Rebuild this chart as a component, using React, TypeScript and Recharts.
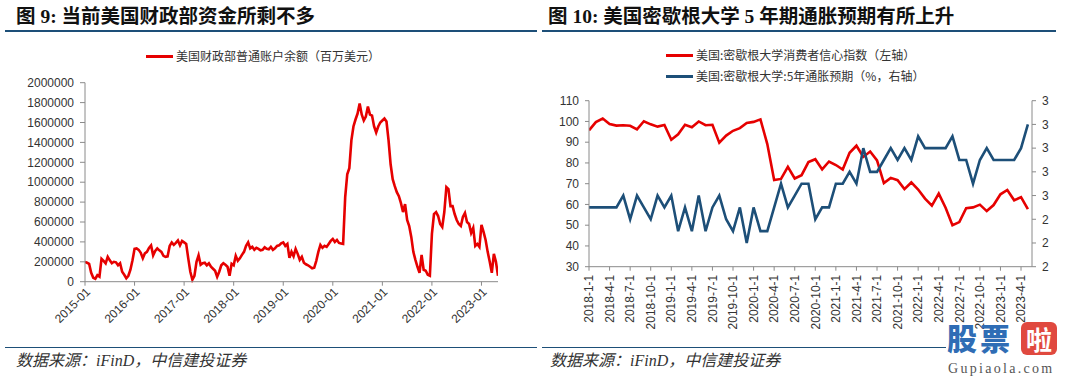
import React from "react";
import { LineChart, Line, XAxis, YAxis } from "recharts";

// ---------- Figure 9: US Treasury General Account balance (millions USD), semi-monthly from 2015-01 ----------
const tgaStartYear = 2015;
const tgaValues: number[] = [
  // 2015
  200000, 190000, 180000, 90000, 40000, 30000, 65000, 50000, 230000, 210000, 185000, 250000,
  215000, 185000, 200000, 195000, 165000, 185000, 100000, 70000, 35000, 60000, 120000, 215000,
  // 2016
  330000, 335000, 320000, 290000, 235000, 285000, 300000, 340000, 365000, 265000, 310000, 335000,
  315000, 300000, 260000, 250000, 255000, 360000, 395000, 370000, 390000, 415000, 365000, 410000,
  // 2017
  395000, 380000, 235000, 100000, 20000, 60000, 200000, 265000, 170000, 185000, 190000, 165000,
  185000, 150000, 130000, 110000, 50000, 100000, 165000, 185000, 170000, 150000, 60000, 180000,
  // 2018
  165000, 260000, 210000, 235000, 270000, 300000, 360000, 395000, 335000, 350000, 320000, 340000,
  330000, 315000, 320000, 345000, 330000, 325000, 350000, 320000, 335000, 360000, 365000, 385000,
  // 2019
  395000, 360000, 380000, 240000, 300000, 255000, 330000, 280000, 220000, 250000, 190000, 175000,
  165000, 150000, 135000, 140000, 210000, 300000, 370000, 340000, 360000, 350000, 380000, 410000,
  // 2020
  430000, 400000, 420000, 390000, 385000, 380000, 850000, 1080000, 1140000, 1420000, 1560000, 1630000,
  1690000, 1790000, 1680000, 1620000, 1660000, 1760000, 1680000, 1670000, 1560000, 1500000, 1560000, 1600000,
  // 2021
  1620000, 1640000, 1610000, 1420000, 1180000, 1030000, 960000, 900000, 860000, 790000, 700000, 780000,
  620000, 560000, 450000, 300000, 220000, 150000, 90000, 270000, 120000, 110000, 70000, 60000,
  // 2022
  480000, 680000, 700000, 660000, 580000, 550000, 700000, 950000, 930000, 760000, 760000, 680000,
  620000, 580000, 560000, 650000, 690000, 600000, 580000, 490000, 540000, 360000, 380000, 350000,
  // 2023
  570000, 500000, 420000, 300000, 200000, 90000, 280000, 200000, 60000,
];
const tgaYearTicks = [0, 12, 24, 36, 48, 60, 72, 84, 96]; // month offsets of each January
const tgaYTicks = [0, 200000, 400000, 600000, 800000, 1000000, 1200000, 1400000, 1600000, 1800000, 2000000];

// ---------- Figure 10: University of Michigan ----------
const michSentiment: number[] = [
  95.7, 99.7, 101.4, 98.8, 98.0, 98.2, 97.9, 96.2, 100.1, 98.6, 97.5, 98.3, // 2018
  91.2, 93.8, 98.4, 97.2, 100.0, 98.2, 98.4, 89.8, 93.2, 95.5, 96.8, 99.3, // 2019
  99.8, 101.0, 89.1, 71.8, 72.3, 78.1, 72.5, 74.1, 80.4, 81.8, 76.9, 80.7, // 2020
  79.0, 76.8, 84.9, 88.3, 82.9, 85.5, 81.2, 70.3, 72.8, 71.7, 67.4, 70.6, // 2021
  67.2, 62.8, 59.4, 65.2, 58.4, 50.0, 51.5, 58.2, 58.6, 59.9, 56.8, 59.7, // 2022
  64.9, 67.0, 62.0, 63.5, 57.7, // 2023
];
const michInflation5y: number[] = [
  2.5, 2.5, 2.5, 2.5, 2.5, 2.6, 2.4, 2.6, 2.5, 2.4, 2.6, 2.5, // 2018
  2.6, 2.3, 2.5, 2.3, 2.6, 2.3, 2.5, 2.6, 2.4, 2.3, 2.5, 2.2, // 2019
  2.5, 2.3, 2.3, 2.5, 2.7, 2.5, 2.6, 2.7, 2.7, 2.4, 2.5, 2.5, // 2020
  2.7, 2.7, 2.8, 2.7, 3.0, 2.8, 2.8, 2.9, 3.0, 2.9, 3.0, 2.9, // 2021
  3.1, 3.0, 3.0, 3.0, 3.0, 3.1, 2.9, 2.9, 2.7, 2.9, 3.0, 2.9, // 2022
  2.9, 2.9, 2.9, 3.0, 3.2, // 2023
];
const michTickLabels = [
  "2018-1-1", "2018-4-1", "2018-7-1", "2018-10-1",
  "2019-1-1", "2019-4-1", "2019-7-1", "2019-10-1",
  "2020-1-1", "2020-4-1", "2020-7-1", "2020-10-1",
  "2021-1-1", "2021-4-1", "2021-7-1", "2021-10-1",
  "2022-1-1", "2022-4-1", "2022-7-1", "2022-10-1",
  "2023-1-1", "2023-4-1",
];
const michLeftTicks = [30, 40, 50, 60, 70, 80, 90, 100, 110];
const michRightTicks = [2.0, 2.2, 2.4, 2.6, 2.8, 3.0, 3.2, 3.4];

// ---------- derived tables ----------
const tgaData = tgaValues.map((v, i) => ({ t: i / 2, v }));
const michData = michSentiment.map((s, i) => ({ i, s, e: michInflation5y[i] }));
const michTickPos = michTickLabels.map((_, k) => k * 3);

const RED = "#e60000";
const BLUE = "#1d4f78";
const AXIS = "#8a8a8a";
const TICK_FONT = '"Liberation Sans", Arial, sans-serif';
const CJK = '"Noto Sans CJK SC", sans-serif';
const TITLE_FONT = '"Liberation Serif", "Noto Sans CJK SC", serif';

function RotTick(props: any) {
  const { x, y, payload, angle, fmt, ox = 0, oy = 0 } = props;
  return (
    <g transform={`translate(${x + ox},${y + oy})`}>
      <text
        textAnchor="end"
        transform={`rotate(${angle})`}
        dy="0.35em"
        fontSize={12}
        fill="#333"
        fontFamily={TICK_FONT}
      >
        {fmt(payload.value)}
      </text>
    </g>
  );
}

function LegendItem({ color, text, x, y }: { color: string; text: string; x: number; y: number }) {
  return (
    <div style={{ position: "absolute", left: x, top: y - 8, height: 16, display: "flex", alignItems: "center", whiteSpace: "nowrap" }}>
      <div style={{ width: 27, height: 3, background: color, marginRight: 3 }} />
      <span style={{ fontFamily: CJK, fontSize: 12, color: "#333", lineHeight: "16px" }}>{text}</span>
    </div>
  );
}

export default function App() {
  return (
    <div style={{ position: "absolute", left: 0, top: 0, width: 1080, height: 377, background: "#fff", overflow: "hidden" }}>
      {/* Titles */}
      <div style={{ position: "absolute", left: 16, top: 7, fontFamily: TITLE_FONT, fontWeight: 700, fontSize: 19.5, lineHeight: "20px", color: "#111", whiteSpace: "nowrap" }}>
        图 9: 当前美国财政部资金所剩不多
      </div>
      <div style={{ position: "absolute", left: 548, top: 7, fontFamily: TITLE_FONT, fontWeight: 700, fontSize: 19.5, lineHeight: "20px", color: "#111", whiteSpace: "nowrap" }}>
        图 10: 美国密歇根大学 5 年期通胀预期有所上升
      </div>
      {/* Top rules */}
      <div style={{ position: "absolute", left: 5, top: 30, width: 532, height: 2, background: BLUE }} />
      <div style={{ position: "absolute", left: 542, top: 30, width: 514, height: 2, background: BLUE }} />

      {/* Legends */}
      <LegendItem color={RED} text="美国财政部普通账户余额（百万美元）" x={146} y={56} />
      <LegendItem color={RED} text="美国:密歇根大学消费者信心指数（左轴）" x={666} y={55} />
      <LegendItem color={BLUE} text="美国:密歇根大学:5年通胀预期（%，右轴）" x={666} y={76} />

      {/* Left chart */}
      <div style={{ position: "absolute", left: 0, top: 0 }}>
        <LineChart width={540} height={377} data={tgaData} margin={{ top: 82.7, right: 42, bottom: 35.3, left: 0 }}>
          <XAxis
            type="number"
            dataKey="t"
            domain={[0, 100]}
            ticks={tgaYearTicks}
            interval={0}
            height={60}
            allowDataOverflow
            axisLine={{ stroke: AXIS }}
            tickLine={{ stroke: AXIS }}
            tickSize={4}
            tick={(p: any) => (
              <RotTick {...p} angle={-45} ox={3} oy={2} fmt={(v: number) => `${tgaStartYear + Math.round(v / 12)}-01`} />
            )}
          />
          <YAxis
            domain={[0, 2000000]}
            ticks={tgaYTicks}
            interval={0}
            width={85}
            axisLine={{ stroke: AXIS }}
            tickLine={{ stroke: AXIS }}
            tickSize={5}
            tickMargin={6}
            tick={{ fontSize: 12, fill: "#333", fontFamily: TICK_FONT }}
          />
          <Line type="linear" dataKey="v" stroke={RED} strokeWidth={2.6} dot={false} isAnimationActive={false} />
        </LineChart>
      </div>

      {/* Right chart */}
      <div style={{ position: "absolute", left: 540, top: 0 }}>
        <LineChart width={540} height={377} data={michData} margin={{ top: 100.7, right: 18, bottom: 40.3, left: 0 }}>
          <XAxis
            type="number"
            dataKey="i"
            domain={[0, 64.6]}
            ticks={michTickPos}
            interval={0}
            height={70}
            allowDataOverflow
            axisLine={{ stroke: AXIS }}
            tickLine={{ stroke: AXIS }}
            tickSize={4}
            tick={(p: any) => (
              <RotTick {...p} angle={-90} ox={0} oy={2} fmt={(v: number) => michTickLabels[Math.round(v / 3)]} />
            )}
          />
          <YAxis
            yAxisId="l"
            domain={[30, 110]}
            ticks={michLeftTicks}
            interval={0}
            width={49}
            axisLine={{ stroke: AXIS }}
            tickLine={{ stroke: AXIS }}
            tickSize={4}
            tickMargin={6}
            tick={{ fontSize: 12, fill: "#333", fontFamily: TICK_FONT }}
          />
          <YAxis
            yAxisId="r"
            orientation="right"
            domain={[2, 3.4]}
            ticks={michRightTicks}
            interval={0}
            width={30}
            axisLine={{ stroke: AXIS }}
            tickLine={{ stroke: AXIS }}
            tickSize={4}
            tickMargin={6}
            tickFormatter={(v: number) => v.toFixed(0)}
            tick={{ fontSize: 12, fill: "#333", fontFamily: TICK_FONT }}
          />
          <Line yAxisId="l" type="linear" dataKey="s" stroke={RED} strokeWidth={2.6} dot={false} isAnimationActive={false} />
          <Line yAxisId="r" type="linear" dataKey="e" stroke={BLUE} strokeWidth={2.6} dot={false} isAnimationActive={false} />
        </LineChart>
      </div>

      {/* Bottom rules and sources */}
      <div style={{ position: "absolute", left: 5, top: 346.5, width: 532, height: 1.5, background: BLUE }} />
      <div style={{ position: "absolute", left: 542, top: 346.5, width: 404, height: 1.5, background: BLUE }} />
      <div style={{ position: "absolute", left: 16, top: 352, fontFamily: TITLE_FONT, fontStyle: "italic", fontSize: 16, lineHeight: "17px", color: "#333", whiteSpace: "nowrap" }}>
        数据来源：iFinD，中信建投证券
      </div>
      <div style={{ position: "absolute", left: 550, top: 352, fontFamily: TITLE_FONT, fontStyle: "italic", fontSize: 16, lineHeight: "17px", color: "#333", whiteSpace: "nowrap" }}>
        数据来源：iFinD，中信建投证券
      </div>

      {/* Watermark */}
      <div style={{ position: "absolute", left: 947, top: 322, fontFamily: CJK, fontWeight: 900, fontSize: 30, lineHeight: "30px", color: "#2f6db5", whiteSpace: "nowrap", letterSpacing: 3 }}>
        股票
      </div>
      <div style={{ position: "absolute", left: 1021, top: 322, width: 36, height: 33, background: "#e0493f", borderRadius: 6, color: "#fff", fontFamily: CJK, fontWeight: 700, fontSize: 26, lineHeight: "33px", textAlign: "center" }}>
        啦
      </div>
      <div style={{ position: "absolute", left: 948, top: 362, fontFamily: '"Liberation Serif", serif', fontSize: 14, lineHeight: "14px", color: "#555", letterSpacing: 2.3, whiteSpace: "nowrap" }}>
        Gupiaola.com
      </div>
    </div>
  );
}
